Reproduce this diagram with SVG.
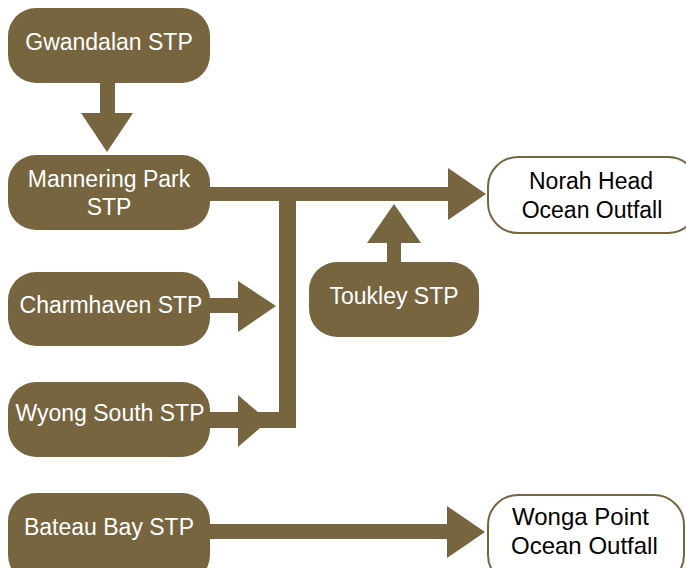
<svg xmlns="http://www.w3.org/2000/svg" width="686" height="568" viewBox="0 0 686 568">
<style>
.src{fill:#776540}
.dst{fill:#fff;stroke:#776540;stroke-width:2}
.lt{font-family:"Liberation Sans",Arial,sans-serif;font-size:23px;fill:#fff;text-anchor:middle}
.dt{font-family:"Liberation Sans",Arial,sans-serif;font-size:23px;fill:#000;text-anchor:middle}
.c{fill:#776540}
</style>
<rect width="686" height="568" fill="#fff"/>
<g id="gwandalan"><rect class="src" x="8" y="8" width="202" height="75" rx="28"/><text class="lt" x="109" y="50">Gwandalan STP</text></g>
<g id="mannering"><rect class="src" x="8" y="155" width="202" height="75" rx="28"/><text class="lt" x="109" y="187">Mannering Park</text><text class="lt" x="109" y="215">STP</text></g>
<g id="charmhaven"><rect class="src" x="8" y="272" width="202" height="74" rx="28"/><text class="lt" x="111" y="313">Charmhaven STP</text></g>
<g id="wyong"><rect class="src" x="8" y="382" width="202" height="75" rx="28"/><text class="lt" x="110" y="421">Wyong South STP</text></g>
<g id="bateau"><rect class="src" x="8" y="493" width="202" height="90" rx="28"/><text class="lt" x="109" y="535">Bateau Bay STP</text></g>
<g id="toukley"><rect class="src" x="309" y="262" width="170" height="75" rx="28"/><text class="lt" x="394" y="304">Toukley STP</text></g>
<g id="norah"><rect class="dst" x="488" y="157" width="210" height="76" rx="30"/><text class="dt" x="591" y="189">Norah Head</text><text class="dt" x="592" y="218">Ocean Outfall</text></g>
<g id="wonga"><rect class="dst" x="488" y="495" width="196" height="90" rx="30"/><text class="dt" x="512" y="525" style="font-size:24px;text-anchor:start">Wonga Point</text><text class="dt" x="511" y="554" style="font-size:24px;text-anchor:start">Ocean Outfall</text></g>
<g id="connectors">
<rect class="c" x="100" y="82" width="15" height="32"/>
<polygon class="c" points="81,113 133,113 107,152"/>
<rect class="c" x="208" y="187" width="242" height="14"/>
<polygon class="c" points="448,168 448,220 486,194"/>
<rect class="c" x="279" y="187" width="17" height="241"/>
<rect class="c" x="208" y="298" width="32" height="15"/>
<polygon class="c" points="238,281 238,332 276,306"/>
<rect class="c" x="208" y="412" width="88" height="16"/>
<polygon class="c" points="238,395 238,447 268,421"/>
<rect class="c" x="387" y="240" width="14" height="23"/>
<polygon class="c" points="367,243 421,243 394,204"/>
<rect class="c" x="208" y="524" width="242" height="15"/>
<polygon class="c" points="447,506 447,558 485,532"/>
</g>
</svg>
